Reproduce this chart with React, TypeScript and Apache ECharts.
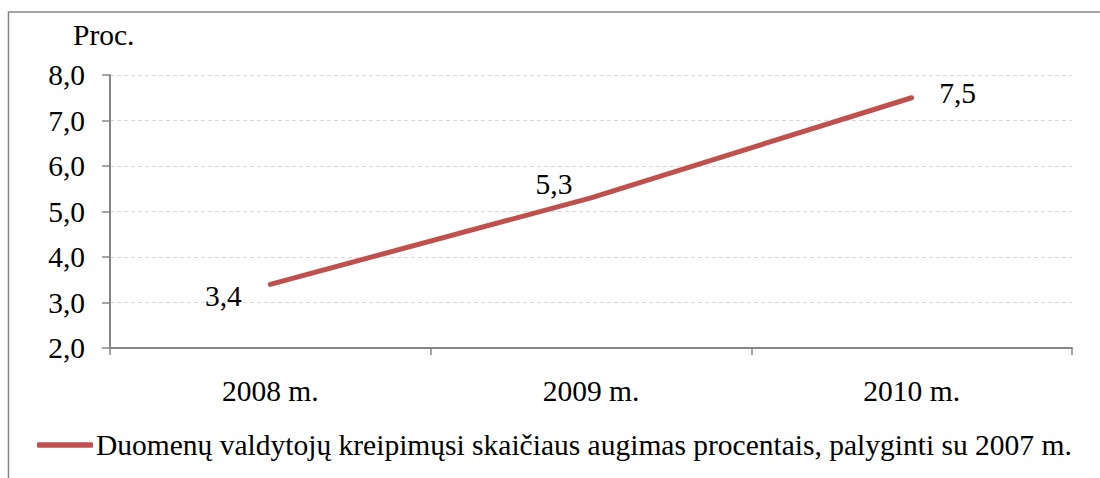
import React, { useEffect, useRef } from "react";
import * as echarts from "echarts";

const categories = ["2008 m.", "2009 m.", "2010 m."];
const values = [3.4, 5.3, 7.5];
const labelOffsets: [number, number][] = [[-47, 12], [-37, -14], [46, -5]];
const seriesName = "Duomenų valdytojų kreipimųsi skaičiaus augimas procentais, palyginti su 2007 m.";
const yUnit = "Proc.";

const FONT = "Liberation Serif";
const FS = 29.5;

export default function App() {
  const ref = useRef<HTMLDivElement>(null);
  useEffect(() => {
    const chart = echarts.init(ref.current!, null, { renderer: "svg" });
    chart.setOption({
      animation: false,
      backgroundColor: "#ffffff",
      textStyle: { fontFamily: FONT, fontSize: FS },
      graphic: [
        {
          type: "rect",
          shape: { x: 8.5, y: 12, width: 1120, height: 500 },
          style: { fill: "none", stroke: "#868686", lineWidth: 1.5 },
          silent: true,
        },
        {
          type: "text",
          x: 73,
          y: 35,
          style: {
            text: yUnit,
            fontFamily: FONT,
            fontSize: FS,
            fill: "#000",
            verticalAlign: "middle",
          },
        },
      ],
      legend: {
        left: 37,
        top: 430,
        padding: 0,
        itemWidth: 56,
        itemHeight: 5.5,
        icon: "roundRect",
        textStyle: { fontFamily: FONT, fontSize: FS, color: "#000", padding: [10, 0, 0, -2] },
        data: [{ name: seriesName }],
      },
      grid: { left: 110, right: 28, top: 75, bottom: 130, containLabel: false },
      xAxis: {
        type: "category",
        data: categories,
        boundaryGap: true,
        axisLine: { lineStyle: { color: "#868686", width: 2 } },
        axisTick: { show: true, length: 7, lineStyle: { color: "#868686", width: 1.5 } },
        axisLabel: { fontFamily: FONT, fontSize: FS, color: "#000", margin: 28 },
        splitLine: { show: false },
      },
      yAxis: {
        type: "value",
        min: 2,
        max: 8,
        interval: 1,
        axisLine: { show: true, lineStyle: { color: "#868686", width: 2 } },
        axisTick: { show: true, length: 8, lineStyle: { color: "#868686", width: 1.5 } },
        axisLabel: {
          fontFamily: FONT,
          fontSize: FS,
          color: "#000",
          margin: 25,
          formatter: (v: number) => v.toFixed(1).replace(".", ","),
        },
        splitLine: { show: true, lineStyle: { color: "#D9D9D9", type: [4, 3], width: 1 } },
      },
      series: [
        {
          name: seriesName,
          type: "line",
          data: values.map((v, i) => ({
            value: v,
            label: { offset: labelOffsets[i] },
          })),
          symbol: "circle",
          symbolSize: 0,
          showSymbol: true,
          lineStyle: { color: "#C0504D", width: 5, cap: "round" },
          itemStyle: { color: "#C0504D" },
          label: {
            show: true,
            position: "inside",
            fontFamily: FONT,
            fontSize: FS,
            color: "#000",
            formatter: (p: any) => Number(p.value).toFixed(1).replace(".", ","),
          },
        },
      ],
    });
    return () => chart.dispose();
  }, []);
  return (
    <div
      ref={ref}
      style={{ position: "fixed", left: 0, top: 0, width: 1100, height: 478 }}
    />
  );
}
